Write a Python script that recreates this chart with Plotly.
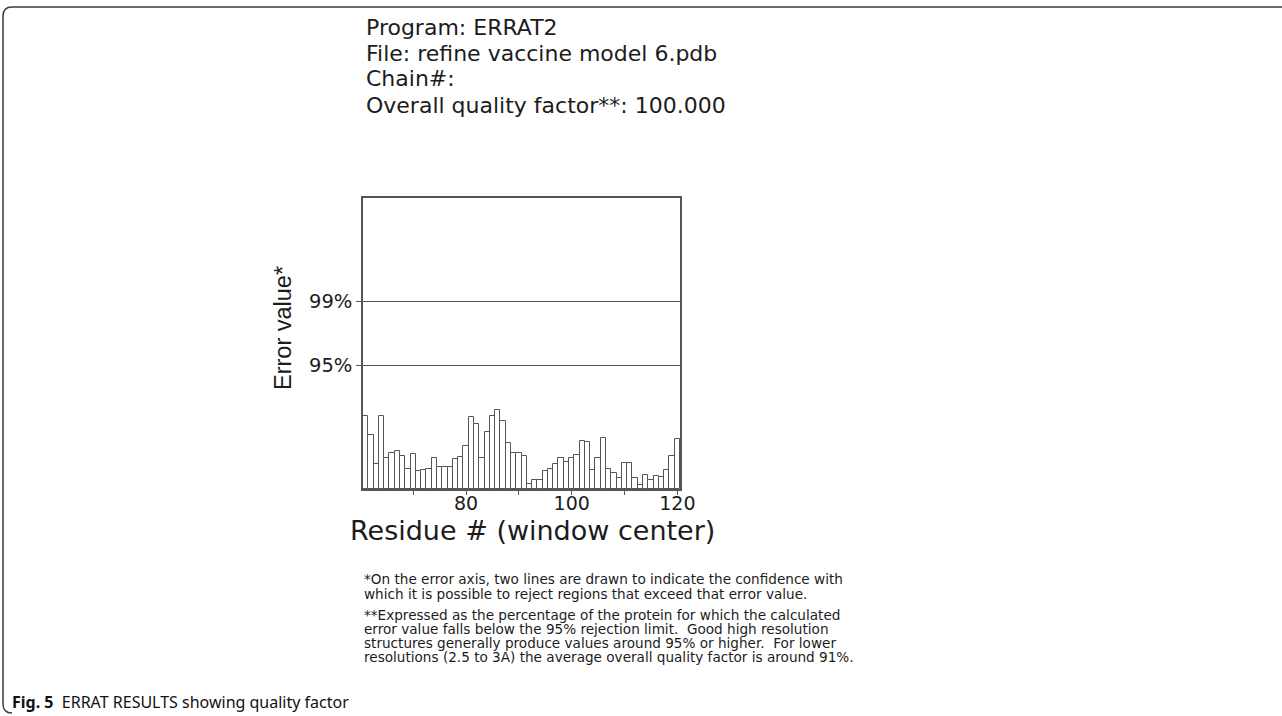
import plotly.graph_objects as go

# ---- data ----
residues = list(range(61, 121))
error_values = [6.70, 4.95, 2.29, 6.70, 2.87, 3.27, 3.49, 3.06, 1.81, 3.18,
                1.68, 1.74, 1.81, 2.87, 2.05, 2.05, 2.05, 2.72, 2.90, 3.97,
                6.64, 5.93, 2.87, 5.20, 6.73, 7.25, 6.27, 4.25, 3.33, 3.33,
                3.06, 0.50, 0.80, 0.80, 1.68, 1.86, 2.28, 2.81, 2.46, 2.80,
                3.09, 4.43, 4.34, 1.74, 2.81, 4.65, 1.83, 1.44, 0.98, 2.36,
                2.36, 0.98, 0.37, 1.28, 0.83, 1.19, 1.07, 1.71, 3.06, 4.59]
limit_values = [11.36, 17.19]
limit_labels = ["95%", "99%"]
x_tick_vals = [70, 80, 90, 100, 110, 120]
x_tick_text = ["", "80", "", "100", "", "120"]

header_lines = ["Program: ERRAT2",
                "File: refine vaccine model 6.pdb",
                "Chain#:",
                "Overall quality factor**: 100.000"]
footnote_lines = ["*On the error axis, two lines are drawn to indicate the confidence with",
                  "which it is possible to reject regions that exceed that error value.",
                  "**Expressed as the percentage of the protein for which the calculated",
                  "error value falls below the 95% rejection limit.  Good high resolution",
                  "structures generally produce values around 95% or higher.  For lower",
                  "resolutions (2.5 to 3A) the average overall quality factor is around 91%."]

# ---- geometry (pixels) ----
W, H = 1282, 716
PL, PR, PT, PB = 363, 680, 198, 489


def px(x):
    return (x - PL) / (PR - PL)


def py(y):
    return (PB - y) / (PB - PT)


TXT = "#1c1c1c"
fig = go.Figure()
fig.add_trace(go.Bar(
    x=residues, y=error_values, width=1.0,
    marker=dict(color="white", line=dict(color="#555555", width=1)),
    showlegend=False, hoverinfo="x+y"))

annotations = []
for i, t in enumerate(header_lines):
    annotations.append(dict(text=t, x=px(364), y=py(27 + 26 * i), xref="paper", yref="paper",
                            xanchor="left", yanchor="middle", showarrow=False,
                            font=dict(family="DejaVu Sans", size=22, color=TXT)))
foot_y = [579, 593.5, 615, 629, 643, 657]
for t, yy in zip(footnote_lines, foot_y):
    annotations.append(dict(text=t, x=px(362), y=py(yy), xref="paper", yref="paper",
                            xanchor="left", yanchor="middle", showarrow=False,
                            font=dict(family="DejaVu Sans", size=13.6, color=TXT)))
annotations.append(dict(text="Residue # (window center)", x=px(532), y=py(530),
                        xref="paper", yref="paper", xanchor="center", yanchor="middle",
                        showarrow=False, font=dict(family="DejaVu Sans", size=27, color=TXT)))
annotations.append(dict(text="Error value*", x=px(283), y=py(328), textangle=-90,
                        xref="paper", yref="paper", xanchor="center", yanchor="middle",
                        showarrow=False, font=dict(family="Liberation Sans", size=23.5, color=TXT)))
annotations.append(dict(text="<b>Fig. 5</b>  ERRAT RESULTS showing quality factor",
                        x=px(10), y=py(702), xref="paper", yref="paper",
                        xanchor="left", yanchor="middle", showarrow=False,
                        font=dict(family="Noto Sans", size=16, color="#111111")))

# outer rounded border (top and left edges)
x0, y0, x1, y1, r = 3, 7, W + 5, 713, 9
path = (f"M {px(x1)},{py(y0)} L {px(x0 + r)},{py(y0)} "
        f"Q {px(x0)},{py(y0)} {px(x0)},{py(y0 + r)} "
        f"L {px(x0)},{py(y1 - r)} Q {px(x0)},{py(y1)} {px(x0 + r)},{py(y1)}")
shapes = [dict(type="path", path=path, xref="paper", yref="paper",
               line=dict(color="#3c3c3c", width=1.5))]

fig.update_layout(
    width=W, height=H,
    margin=dict(l=PL, r=W - PR, t=PT, b=H - PB, pad=0),
    paper_bgcolor="white", plot_bgcolor="white",
    bargap=0,
    annotations=annotations, shapes=shapes,
    xaxis=dict(range=[60.5, 120.5], tickvals=x_tick_vals, ticktext=x_tick_text,
               ticks="outside", ticklen=4, tickcolor="#555", showgrid=False,
               showline=True, mirror=True, linecolor="#555", linewidth=1.5,
               zeroline=False, ticklabelstandoff=-8,
               tickfont=dict(family="DejaVu Sans", size=19, color=TXT)),
    yaxis=dict(range=[0, 26.7], tickvals=limit_values, ticktext=limit_labels,
               ticks="outside", ticklen=5, tickcolor="#555", showgrid=True,
               gridcolor="#555", gridwidth=1.3, showline=True, mirror=True,
               linecolor="#555", linewidth=1.5, zeroline=False,
               tickfont=dict(family="DejaVu Sans", size=19.5, color=TXT)),
)

fig.write_html("out.html", config={"displayModeBar": False},
               post_script="document.body.style.margin='0';")
